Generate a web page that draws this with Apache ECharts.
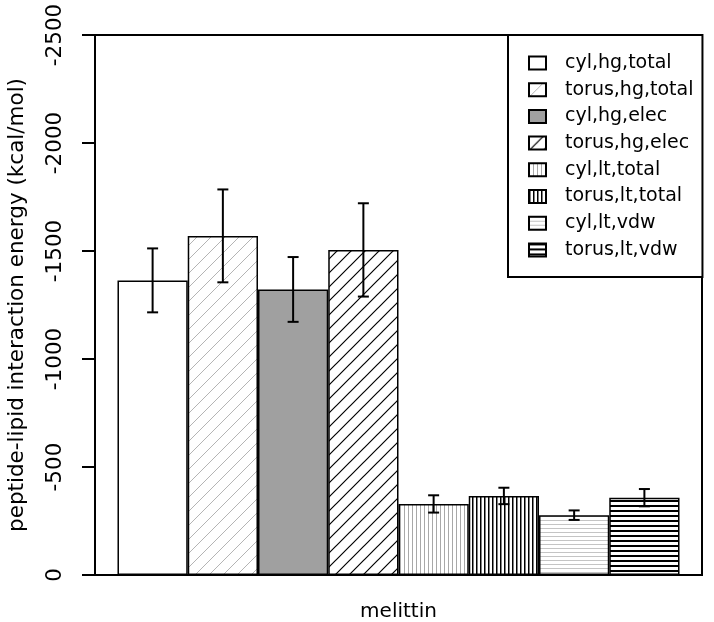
<!DOCTYPE html>
<html>
<head>
<meta charset="utf-8">
<script src="https://cdn.jsdelivr.net/npm/echarts@6/dist/echarts.min.js"></script>
<style>html,body{margin:0;padding:0;background:#fff;}#c{width:714px;height:622px;}</style>
</head>
<body>
<div id="c"></div>
<script>
// ---- data ----
var groupName = 'melittin';
var seriesNames = ['cyl,hg,total','torus,hg,total','cyl,hg,elec','torus,hg,elec','cyl,lt,total','torus,lt,total','cyl,lt,vdw','torus,lt,vdw'];
var meanValues = [-1364, -1570, -1322, -1505, -329, -366, -277, -358];
var errValues  = [148, 215, 150, 216, 40, 38, 22, 40];
var yTicks = [-2500, -2000, -1500, -1000, -500, 0];

// ---- patterns ----
function tile(w, h, draw) {
  var c = document.createElement('canvas');
  c.width = w; c.height = h;
  var ctx = c.getContext('2d');
  ctx.fillStyle = '#fff'; ctx.fillRect(0, 0, w, h);
  draw(ctx, w, h);
  return c;
}
function diag(color, lw) {
  return tile(14, 14, function (ctx, w, h) {
    ctx.strokeStyle = color; ctx.lineWidth = lw;
    ctx.beginPath();
    ctx.moveTo(0, h); ctx.lineTo(w, 0);
    ctx.moveTo(-2, 2); ctx.lineTo(2, -2);
    ctx.moveTo(w - 2, h + 2); ctx.lineTo(w + 2, h - 2);
    ctx.stroke();
  });
}
function vert(color, lw, step) {
  return tile(step, 4, function (ctx, w, h) {
    ctx.fillStyle = color; ctx.fillRect(0, 0, lw, h);
  });
}
function horiz(color, lw, step) {
  return tile(4, step, function (ctx, w, h) {
    ctx.fillStyle = color; ctx.fillRect(0, 0, w, lw);
  });
}
var fills = [
  '#ffffff',
  {image: diag('#b4b4b4', 1), repeat: 'repeat'},
  '#a0a0a0',
  {image: diag('#000000', 1.2), repeat: 'repeat'},
  {image: vert('#a8a8a8', 1, 4), repeat: 'repeat'},
  {image: vert('#000000', 1.5, 4), repeat: 'repeat'},
  {image: horiz('#c4c4c4', 1, 4), repeat: 'repeat'},
  {image: horiz('#000000', 2, 5), repeat: 'repeat'}
];

var FONT = 'DejaVu Sans';
var series = seriesNames.map(function (name, i) {
  return {
    name: name,
    type: 'bar',
    barWidth: '100%',
    barGap: '-100%',
    data: [[i + 1, meanValues[i]]],
    itemStyle: {color: fills[i], borderColor: '#000', borderWidth: 1.5},
    emphasis: {disabled: true},
    z: 2
  };
});
series.push({
  type: 'custom',
  name: 'err',
  z: 5,
  data: meanValues.map(function (v, i) { return [i + 1, v - errValues[i], v + errValues[i]]; }),
  encode: {x: 0, y: [1, 2]},
  renderItem: function (params, api) {
    var x = api.value(0);
    var p1 = api.coord([x, api.value(1)]);
    var p2 = api.coord([x, api.value(2)]);
    var hw = 5.5;
    var st = {stroke: '#000', lineWidth: 2};
    return {type: 'group', children: [
      {type: 'line', shape: {x1: p1[0], y1: p1[1], x2: p2[0], y2: p2[1]}, style: st},
      {type: 'line', shape: {x1: p1[0] - hw, y1: p1[1], x2: p1[0] + hw, y2: p1[1]}, style: st},
      {type: 'line', shape: {x1: p2[0] - hw, y1: p2[1], x2: p2[0] + hw, y2: p2[1]}, style: st}
    ]};
  }
});

var chart = echarts.init(document.getElementById('c'));
chart.setOption({
  animation: false,
  backgroundColor: '#fff',
  grid: {left: 95, right: 12, top: 35, bottom: 47, show: true, borderColor: '#000', borderWidth: 2,
    backgroundColor: 'transparent', containLabel: false, outerBoundsMode: 'none'},
  xAxis: {
    type: 'value', min: 0.18, max: 8.82,
    name: groupName, nameLocation: 'middle', nameGap: 27,
    nameTextStyle: {fontFamily: FONT, fontSize: 20, color: '#000'},
    axisLine: {show: false}, axisTick: {show: false}, axisLabel: {show: false}, splitLine: {show: false}
  },
  yAxis: {
    type: 'value', min: yTicks[0], max: yTicks[yTicks.length - 1], interval: 500, inverse: true,
    name: 'peptide-lipid interaction energy (kcal/mol)', nameLocation: 'middle', nameGap: 67,
    nameTextStyle: {fontFamily: FONT, fontSize: 21.5, color: '#000'},
    axisLine: {show: true, lineStyle: {color: '#000', width: 2}},
    axisTick: {show: true, length: 13, lineStyle: {color: '#000', width: 2}},
    axisLabel: {rotate: 90, margin: 29, fontFamily: FONT, fontSize: 21.5, color: '#000',
      formatter: function (v) { return String(v); }},
    splitLine: {show: false}
  },
  legend: {
    data: seriesNames,
    orient: 'vertical',
    left: 508, top: 35,
    padding: [18, 9, 17, 20],
    borderColor: '#000', borderWidth: 2, backgroundColor: '#fff',
    itemWidth: 17, itemHeight: 13, itemGap: 6.7,
    icon: 'rect',
    selectedMode: false,
    textStyle: {fontFamily: FONT, fontSize: 19, color: '#000', lineHeight: 20, padding: [0, 0, 0, 14]}
  },
  series: series
});
</script>
</body>
</html>
